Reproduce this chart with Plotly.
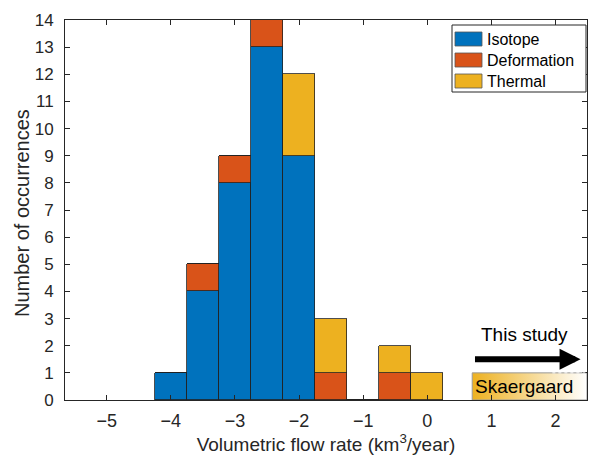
import plotly.graph_objects as go

bin_centers = [-4.0, -3.5, -3.0, -2.5, -2.0, -1.5, -1.0, -0.5, 0.0]
isotope = [1, 4, 8, 13, 9, 0, 0, 0, 0]
deformation = [0, 1, 1, 1, 0, 1, 0, 1, 0]
thermal = [0, 0, 0, 0, 3, 2, 0, 1, 1]

x_ticks = [-5, -4, -3, -2, -1, 0, 1, 2]
y_ticks = list(range(0, 15))

skaer_x = [0.7, 2.49, 2.49, 0.7, 0.7]
skaer_y = [0, 0, 1, 1, 0]

series_names = ["Isotope", "Deformation", "Thermal"]
colors = {"Isotope": "#0072BD", "Deformation": "#D95319", "Thermal": "#EDB120"}
font = "Liberation Sans, Arial, Helvetica, sans-serif"

W, H = 590, 457
ML, MR, MT, MB = 65, 3, 20, 57
PW, PH = W - ML - MR, H - MT - MB


def px(xp):
    return (xp - ML) / PW


def py(yp):
    return (H - MB - yp) / PH


fig = go.Figure()

fig.add_trace(go.Scatter(
    x=skaer_x, y=skaer_y, mode="lines", fill="toself",
    fillgradient=dict(type="horizontal", colorscale=[[0, "#EDB120"], [1, "#FFFFFF"]]),
    line=dict(color="#999999", width=1), showlegend=False, hoverinfo="skip"))

for name, vals in zip(series_names, [isotope, deformation, thermal]):
    fig.add_trace(go.Bar(
        x=bin_centers, y=vals, name=name, width=0.5, showlegend=False,
        marker=dict(color=colors[name], line=dict(color="#222222", width=0.8))))

fig.add_shape(type="line", x0=1.95, x1=2.49, y0=1, y1=1, xref="x", yref="y",
              line=dict(color="white", width=1, dash="dot"))

fig.add_annotation(x=2.39, y=1.5, ax=0.72, ay=1.5, xref="x", yref="y", axref="x", ayref="y",
                   showarrow=True, arrowhead=2, arrowsize=0.7, arrowwidth=6, arrowcolor="black", text="")
fig.add_annotation(x=1.52, y=2.4, text="This study", showarrow=False,
                   font=dict(size=19, color="black", family=font))
fig.add_annotation(x=0.71, y=0.48, text="Skaergaard", showarrow=False, xanchor="left",
                   font=dict(size=19, color="black", family=font))

# manual legend (box, patches, labels)
fig.add_shape(type="rect", xref="paper", yref="paper", x0=px(452), x1=px(586), y0=py(92), y1=py(25),
              fillcolor="white", line=dict(color="#262626", width=1), layer="above")
for i, name in enumerate(series_names):
    cy = 39 + 21 * i
    fig.add_shape(type="rect", xref="paper", yref="paper", x0=px(455), x1=px(482),
                  y0=py(cy + 7), y1=py(cy - 7), fillcolor=colors[name],
                  line=dict(color="#555555", width=0.8), layer="above")
    fig.add_annotation(xref="paper", yref="paper", x=px(485), y=py(cy), text=name,
                       showarrow=False, xanchor="left", yanchor="middle",
                       font=dict(size=16, color="black", family=font))

# y-axis title as annotation
fig.add_annotation(xref="paper", yref="paper", x=px(22), y=py(213), text="Number of occurrences",
                   textangle=-90, showarrow=False, xanchor="center", yanchor="middle",
                   font=dict(size=20, color="#262626", family=font))

fig.update_layout(
    width=W, height=H,
    margin=dict(l=ML, r=MR, t=MT, b=MB, autoexpand=False),
    barmode="stack", bargap=0,
    plot_bgcolor="white", paper_bgcolor="white",
    font=dict(family=font, size=18, color="#262626"),
    showlegend=False,
)
fig.update_xaxes(range=[-5.65, 2.49], tickvals=x_ticks,
                 ticktext=["\u2212" + str(-v) if v < 0 else str(v) for v in x_ticks],
                 tickfont=dict(size=18), ticklabelstandoff=4,
                 ticks="inside", ticklen=5, tickcolor="#262626", showline=True, linecolor="#262626",
                 linewidth=1, mirror="ticks", showgrid=False, zeroline=False, automargin=False,
                 title=dict(text="Volumetric flow rate (km<sup>3</sup>/year)", font=dict(size=19), standoff=6))
fig.update_yaxes(range=[0, 14], tickvals=y_ticks, ticks="inside", ticklen=5, tickcolor="#262626",
                 tickfont=dict(size=17), ticklabelstandoff=7,
                 showline=True, linecolor="#262626", linewidth=1, mirror="ticks", showgrid=False,
                 zeroline=False, automargin=False)

fig.write_html("out.html", config={"displayModeBar": False},
               post_script="document.body.style.margin='0';document.body.style.padding='0';")
